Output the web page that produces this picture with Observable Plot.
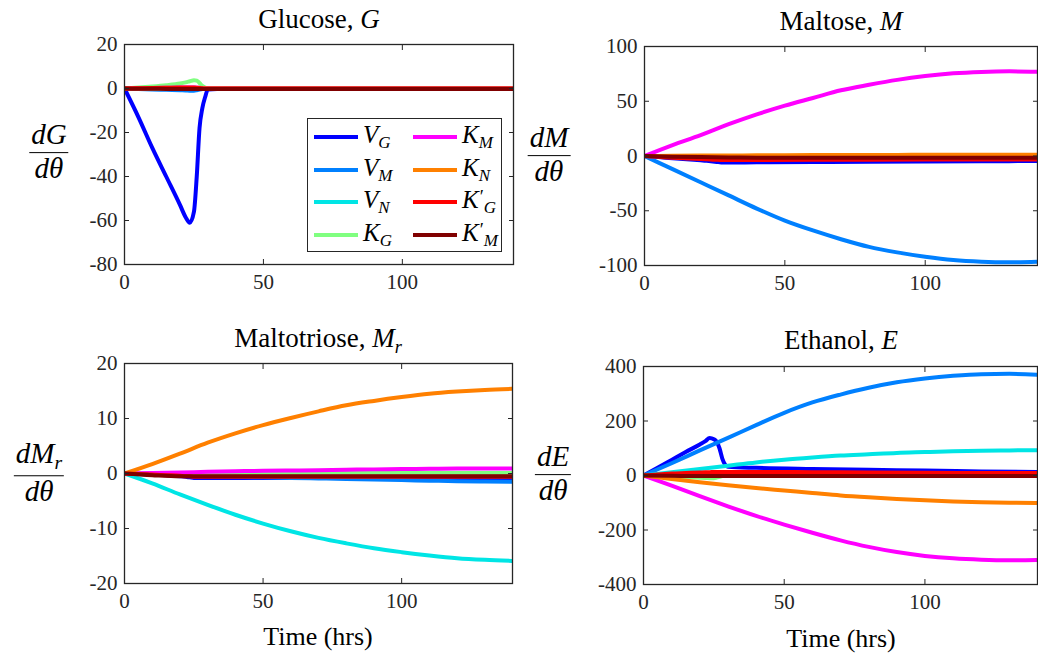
<!DOCTYPE html>
<html>
<head>
<meta charset="utf-8">
<script src="https://cdn.jsdelivr.net/npm/d3@7"></script>
<script src="https://cdn.jsdelivr.net/npm/@observablehq/plot@0.6"></script>
<style>
  html, body { margin: 0; padding: 0; background: #fff; }
  #root { position: relative; width: 1038px; height: 658px; overflow: hidden; background: #fff;
          font-family: "Liberation Serif", "Times New Roman", Times, "DejaVu Serif", serif; color: #000; }
  .panel { position: absolute; }
  .title { position: absolute; width: 400px; text-align: center; font-size: 27px; line-height: 1; white-space: nowrap; }
  .xlabel { position: absolute; width: 300px; text-align: center; font-size: 26px; line-height: 1; }
  .frac { position: absolute; transform: translate(-50%, -50%); display: flex; flex-direction: column; align-items: center;
          font-size: 29px; font-style: italic; line-height: 1.1; white-space: nowrap; }
  .frac .num { padding: 0 2px 1px 2px; border-bottom: 1.5px solid #000; }
  .frac .den { padding: 0 2px; }
  i { font-style: italic; }
  .sub { font-size: 0.68em; vertical-align: -0.3em; font-style: italic; }
  .pr { font-style: normal; font-size: 0.75em; vertical-align: 0.3em; margin-left: 1px; }
  .legend { position: absolute; border: 1.3px solid #262626; background: #fff; box-sizing: border-box; }
  .lg-item { position: absolute; height: 28px; display: flex; align-items: center; transform: translateY(-50%); white-space: nowrap; width: 90px; }
  .lg-sw { width: 44px; height: 4px; margin-right: 5px; flex: none; }
  .lg-lab { font-size: 25px; font-style: italic; line-height: 1; white-space: nowrap; }
</style>
</head>
<body>
<div id="root"></div>
<script>
// ---------------- data ----------------
const time = [0, 10, 20, 30, 40, 50, 60, 70, 80, 90, 100, 110, 120, 130, 140];
const timeFine = [0, 5, 10, 15, 20, 22, 23.5, 25, 26, 27, 28, 29, 30, 40, 60, 80, 100, 120, 140];

const seriesNames = ["V_G", "V_M", "V_N", "K_G", "K_M", "K_N", "K'_G", "K'_M"];
const seriesColors = ["#0000ff", "#0080ff", "#00e5e5", "#80ff80", "#ff00ff", "#ff8000", "#ff0000", "#800000"];

// Glucose (all on timeFine)
const G_VG  = [0, -13, -27, -40, -53, -58.5, -61, -56, -40, -18, -9, -4, -0.5, 0, 0, 0, 0, 0, 0];
const G_VM  = [0, -0.2, -0.4, -0.6, -0.8, -0.9, -1, -1, -0.8, -0.5, -0.2, -0.1, 0, 0, 0, 0, 0, 0, 0];
const G_VN  = [0, 0, 0, 0, 0, 0, 0, 0, 0, 0, 0, 0, 0, 0, 0, 0, 0, 0, 0];
const G_KG  = [0, 0.4, 0.9, 1.5, 2.3, 2.8, 3.3, 3.8, 3.6, 2.5, 1.2, 0.4, 0, 0, 0, 0, 0, 0, 0];
const G_KM  = [0, 0.1, 0.2, 0.3, 0.4, 0.5, 0.5, 0.5, 0.4, 0.3, 0.1, 0, 0, 0, 0, 0, 0, 0, 0];
const G_KN  = [0, 0, 0, 0, 0, 0, 0, 0, 0, 0, 0, 0, 0, 0, 0, 0, 0, 0, 0];
const G_KpG = [0, 0.1, 0.2, 0.3, 0.4, 0.4, 0.5, 0.5, 0.4, 0.2, 0.1, 0, 0, 0, 0, 0, 0, 0, 0];
const G_KpM = [0, -0.1, -0.1, -0.2, -0.2, -0.2, -0.2, -0.2, -0.2, -0.2, -0.2, -0.2, -0.2, -0.2, -0.2, -0.2, -0.2, -0.2, -0.2];

// Maltose
const M_VG  = [0, -1, -2, -3, -4, -4.4, -4.8, -5.2, -5.5, -5.8, -6, -6, -6, -5.8, -5.5, -5.2, -5, -4.8, -4.6]; // timeFine
const M_VM  = [0, -12, -24, -36, -48, -59, -68, -76, -83, -88, -92, -95, -96.5, -97, -96.5];
const M_VN  = [0, -0.1, -0.2, -0.3, -0.3, -0.4, -0.4, -0.4, -0.5, -0.5, -0.5, -0.5, -0.5, -0.5, -0.5];
const M_KG  = [0, 0, 0, 0, 0, 0, 0, 0, 0, 0, 0, 0, 0, 0, 0];
const M_KM  = [0, 10, 19, 29, 38, 46, 53, 60, 65, 69.5, 73, 75.5, 76.8, 77.3, 77];
const M_KN  = [0, 0.2, 0.4, 0.5, 0.6, 0.7, 0.8, 0.9, 1, 1, 1.1, 1.1, 1.2, 1.2, 1.2];
const M_KpG = [0, -0.8, -1.6, -2.2, -2.8, -3, -3.2, -3.4, -3.5, -3.6, -3.7, -3.7, -3.7, -3.6, -3.5, -3.4, -3.3, -3.2, -3.2]; // timeFine
const M_KpM = [0, -0.6, -1, -1.3, -1.5, -1.6, -1.6, -1.7, -1.7, -1.7, -1.7, -1.7, -1.7, -1.7, -1.7];

// Maltotriose
const R_VG  = [0, -0.1, -0.2, -0.3, -0.5, -0.6, -0.7, -0.8, -0.8, -0.8, -0.8, -0.8, -0.8, -0.8, -0.8, -0.8, -0.8, -0.8, -0.8]; // timeFine
const R_VM  = [0, -0.15, -0.3, -0.45, -0.6, -0.7, -0.8, -0.9, -1, -1.1, -1.2, -1.3, -1.4, -1.45, -1.5];
const R_VN  = [0, -1.8, -3.8, -5.7, -7.5, -9.1, -10.5, -11.7, -12.7, -13.6, -14.3, -14.9, -15.4, -15.7, -15.9];
const R_KG  = [0, 0, 0.1, 0.1, 0.1, 0.1, 0.1, 0.1, 0.1, 0.1, 0.1, 0.1, 0.1, 0.1, 0.1];
const R_KM  = [0, 0.1, 0.2, 0.3, 0.4, 0.5, 0.55, 0.6, 0.7, 0.75, 0.8, 0.85, 0.9, 0.9, 0.9];
const R_KN  = [0, 1.7, 3.6, 5.6, 7.3, 8.8, 10.1, 11.3, 12.4, 13.2, 13.9, 14.5, 14.9, 15.2, 15.4];
const R_KpG = [0, -0.1, -0.2, -0.3, -0.4, -0.5, -0.5, -0.6, -0.6, -0.6, -0.6, -0.6, -0.6, -0.6, -0.6, -0.6, -0.6, -0.6, -0.6]; // timeFine
const R_KpM = [0, -0.3, -0.5, -0.5, -0.5, -0.5, -0.5, -0.5, -0.5, -0.5, -0.5, -0.5, -0.5, -0.5, -0.5];

// Ethanol
const E_VG  = [0, 28, 57, 86, 114, 126, 138, 133, 124, 100, 62, 40, 32, 28, 24, 21, 18, 15, 13]; // timeFine
const E_VM  = [0, 45, 92, 138, 185, 230, 268, 297, 322, 342, 356, 366, 372, 373, 370];
const E_VN  = [0, 12, 24, 36, 48, 58, 66, 73, 78, 83, 86, 89, 91, 92, 93];
const E_KG  = [0, -2, -4, -6, -8, -9, -10, -10, -8, -5, -2, -1, 0, 0, 0, 0, 0, 0, 0]; // timeFine
const E_KM  = [0, -37, -76, -113, -148, -180, -210, -238, -262, -281, -295, -304, -309, -311, -310];
const E_KN  = [0, -13, -25, -36, -46, -55, -64, -73, -80, -86, -91, -95, -98, -100, -101];
const E_KpG = [0, 4, 7, 9, 11, 12, 12, 13, 13, 13, 13, 13, 13, 13, 12, 11, 10, 9, 9]; // timeFine
const E_KpM = [0, -1, -2, -2, -2, -2, -2, -2, -2, -2, -2, -2, -2, -2, -2];

// tick labels
const xTicks = [0, 50, 100];
const yTicksG = [-80, -60, -40, -20, 0, 20];
const yTicksM = [-100, -50, 0, 50, 100];
const yTicksR = [-20, -10, 0, 10, 20];
const yTicksE = [-400, -200, 0, 200, 400];

// ---------------- build ----------------
const root = document.getElementById("root");
const FONT = "'Liberation Serif', 'Times New Roman', Times, 'DejaVu Serif', serif";

function rows(ts, vs) { return ts.map((t, i) => ({t, v: vs[i]})); }

function makePanel(cfg) {
  const marks = [];
  cfg.series.forEach(([ts, vs], i) => {
    marks.push(Plot.line(rows(ts, vs), {x: "t", y: "v", stroke: seriesColors[i], strokeWidth: 4,
      curve: "monotone-x", strokeLinejoin: "round", strokeLinecap: "butt", clip: true}));
  });
  const fmt = d => String(d);
  const blank = () => "";
  const ax = "#262626";
  marks.push(
    Plot.frame({stroke: ax, strokeWidth: 1.3}),
    Plot.axisX(xTicks, {tickSize: 0, tickPadding: 10, tickFormat: fmt, label: null, color: ax}),
    Plot.axisY(cfg.yTicks, {tickSize: 0, tickPadding: 7, tickFormat: fmt, label: null, color: ax}),
    Plot.axisX(xTicks, {anchor: "bottom", tickSize: 5, dy: -5, text: null, tickFormat: blank, label: null, stroke: ax}),
    Plot.axisX(xTicks, {anchor: "top", tickSize: 5, dy: 5, text: null, tickFormat: blank, label: null, stroke: ax}),
    Plot.axisY(cfg.yTicks, {anchor: "left", tickSize: 5, dx: 5, text: null, tickFormat: blank, label: null, stroke: ax}),
    Plot.axisY(cfg.yTicks, {anchor: "right", tickSize: 5, dx: -5, text: null, tickFormat: blank, label: null, stroke: ax})
  );
  const svg = Plot.plot({
    width: cfg.width, height: cfg.height,
    marginLeft: cfg.ml, marginRight: cfg.mr, marginTop: cfg.mt, marginBottom: cfg.mb,
    x: {domain: [0, 140], label: null},
    y: {domain: cfg.yDomain, label: null},
    style: {fontFamily: FONT, fontSize: "21px", color: "#262626", background: "transparent", overflow: "visible"},
    marks
  });
  const div = document.createElement("div");
  div.className = "panel";
  div.style.left = cfg.left + "px";
  div.style.top = cfg.top + "px";
  div.style.width = cfg.width + "px";
  div.appendChild(svg);
  root.appendChild(div);
}

makePanel({left: 0, top: 0, width: 520, height: 300, ml: 124, mr: 7, mt: 44, mb: 36, yDomain: [-80, 20], yTicks: yTicksG,
  series: [[timeFine, G_VG], [timeFine, G_VM], [timeFine, G_VN], [timeFine, G_KG], [timeFine, G_KM], [timeFine, G_KN], [timeFine, G_KpG], [timeFine, G_KpM]]});
makePanel({left: 520, top: 0, width: 518, height: 300, ml: 124, mr: 1, mt: 46, mb: 35, yDomain: [-100, 100], yTicks: yTicksM,
  series: [[timeFine, M_VG], [time, M_VM], [time, M_VN], [time, M_KG], [time, M_KM], [time, M_KN], [timeFine, M_KpG], [time, M_KpM]]});
makePanel({left: 0, top: 310, width: 520, height: 348, ml: 124, mr: 8, mt: 53, mb: 75, yDomain: [-20, 20], yTicks: yTicksR,
  series: [[timeFine, R_VG], [time, R_VM], [time, R_VN], [time, R_KG], [time, R_KM], [time, R_KN], [timeFine, R_KpG], [time, R_KpM]]});
makePanel({left: 520, top: 310, width: 518, height: 348, ml: 123, mr: 1, mt: 56, mb: 74, yDomain: [-400, 400], yTicks: yTicksE,
  series: [[timeFine, E_VG], [time, E_VM], [time, E_VN], [timeFine, E_KG], [time, E_KM], [time, E_KN], [timeFine, E_KpG], [time, E_KpM]]});

// ---------------- text overlays ----------------
function addHTML(html) { root.insertAdjacentHTML("beforeend", html); }

addHTML(`<div class="title" style="left:${319 - 200}px; top:6px">Glucose, <i>G</i></div>`);
addHTML(`<div class="title" style="left:${841 - 200}px; top:8px">Maltose, <i>M</i></div>`);
addHTML(`<div class="title" style="left:${318 - 200}px; top:325px">Maltotriose, <i>M</i><span class="sub">r</span></div>`);
addHTML(`<div class="title" style="left:${841 - 200}px; top:327px">Ethanol, <i>E</i></div>`);

addHTML(`<div class="xlabel" style="left:${318 - 150}px; top:624px">Time (hrs)</div>`);
addHTML(`<div class="xlabel" style="left:${841 - 150}px; top:626px">Time (hrs)</div>`);

function frac(cx, cy, numHTML) {
  addHTML(`<div class="frac" style="left:${cx}px; top:${cy}px"><div class="num">${numHTML}</div><div class="den">dθ</div></div>`);
}
frac(49, 152, "dG");
frac(549, 155, "dM");
frac(39, 473, `dM<span class="sub">r</span>`);
frac(553, 474, "dE");

// legend
const legendLabels = [
  `V<span class="sub">G</span>`, `V<span class="sub">M</span>`, `V<span class="sub">N</span>`, `K<span class="sub">G</span>`,
  `K<span class="sub">M</span>`, `K<span class="sub">N</span>`,
  `K<span class="pr">′</span><span class="sub">G</span>`,
  `K<span class="pr">′</span><span class="sub">M</span>`
];
let lg = `<div class="legend" style="left:307px; top:118px; width:195px; height:134px">`;
const rowY = [18, 51, 83, 116];
legendLabels.forEach((lab, i) => {
  const col = Math.floor(i / 4), r = i % 4;
  const x = col === 0 ? 6 : 105;
  lg += `<div class="lg-item" style="left:${x}px; top:${rowY[r]}px"><div class="lg-sw" style="background:${seriesColors[i]}"></div><div class="lg-lab">${lab}</div></div>`;
});
lg += `</div>`;
addHTML(lg);
</script>
</body>
</html>
